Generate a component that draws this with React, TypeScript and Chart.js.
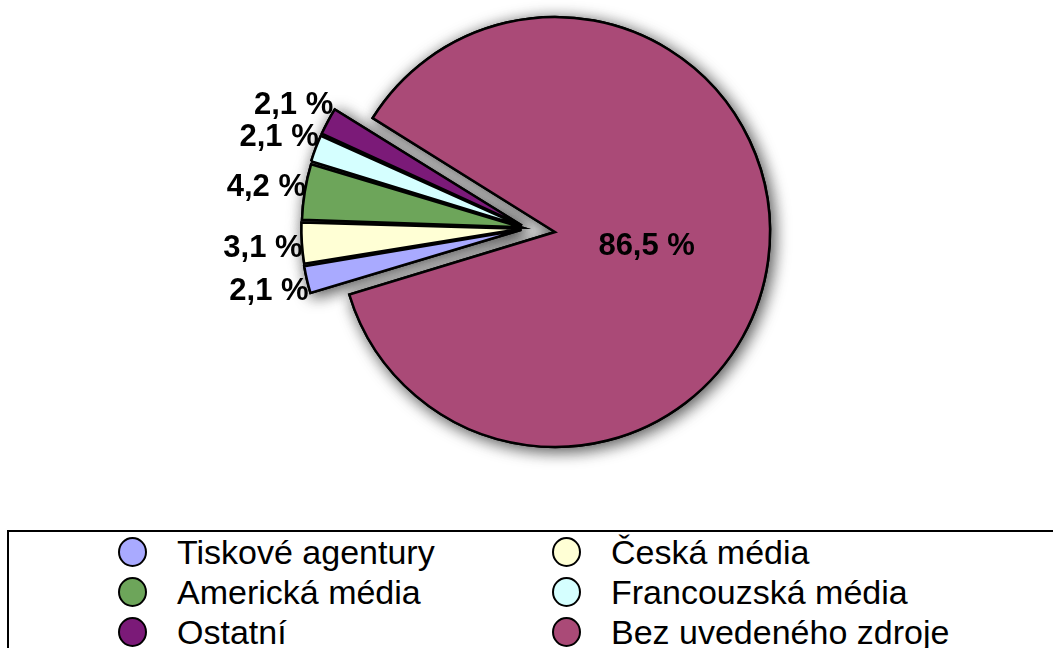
import React, { useEffect, useRef } from "react";
import { Chart, registerables } from "chart.js";

Chart.register(...registerables);

// ---- data ----
const categories = [
  "Tiskové agentury",
  "Česká média",
  "Americká média",
  "Francouzská média",
  "Ostatní",
  "Bez uvedeného zdroje",
];
const shares = [2.1, 3.1, 4.2, 2.1, 2.1, 86.5];
const sliceColors = ["#A9AAFF", "#FFFFD5", "#6DA55A", "#D5FFFF", "#7B1A78", "#AA4A77"];
const exploded = [true, true, true, true, true, false];

// ---- styling constants ----
const PIE_RADIUS = 215;
const GROUP_EXPLODE = 28;
const SLICE_OFFSET = 24;
const LABEL_SIZE = 31;
const FONT_FAMILY = '"Liberation Sans", Arial, Helvetica, sans-serif';

const fmt = (v: number) => v.toFixed(1).replace(".", ",") + " %";

function sliceShift(a: any) {
  const off = (a.options.offset || 0) / 4;
  const fix = 1 - Math.sin(Math.min(Math.PI, a.circumference || 0));
  return off * (1 + fix);
}

const groupExplodePlugin = {
  id: "groupExplode",
  afterDatasetsUpdate(chart: any) {
    const arcs = chart.getDatasetMeta(0).data;
    let s: number | null = null;
    let e: number | null = null;
    arcs.forEach((a: any, i: number) => {
      if (exploded[i]) {
        if (s === null) s = a.startAngle;
        e = a.endAngle;
      }
    });
    if (s === null || e === null) return;
    const mid = ((s as number) + (e as number)) / 2;
    arcs.forEach((a: any, i: number) => {
      if (exploded[i]) {
        a.x += Math.cos(mid) * GROUP_EXPLODE;
        a.y += Math.sin(mid) * GROUP_EXPLODE;
      }
    });
  },
};

const shadowPlugin = {
  id: "sliceShadow",
  beforeDatasetsDraw(chart: any) {
    const ctx = chart.ctx;
    const arcs = chart.getDatasetMeta(0).data;
    ctx.save();
    ctx.shadowColor = "rgba(0,0,0,0.7)";
    ctx.shadowBlur = 16;
    ctx.shadowOffsetX = 3;
    ctx.shadowOffsetY = 3;
    arcs.forEach((a: any) => a.draw(ctx));
    ctx.restore();
  },
};

const labelPlugin = {
  id: "sliceLabels",
  afterDatasetsDraw(chart: any) {
    const ctx = chart.ctx;
    const arcs = chart.getDatasetMeta(0).data;
    ctx.save();
    ctx.font = `bold ${LABEL_SIZE}px ${FONT_FAMILY}`;
    ctx.fillStyle = "#000";
    ctx.textAlign = "center";
    ctx.textBaseline = "alphabetic";
    arcs.forEach((a: any, i: number) => {
      const mid = (a.startAngle + a.endAngle) / 2;
      const sh = sliceShift(a);
      const cx = a.x + Math.cos(mid) * sh;
      const cy = a.y + Math.sin(mid) * sh;
      const d = exploded[i] ? a.outerRadius + 39 : a.outerRadius * 0.43;
      const x = cx + Math.cos(mid) * d;
      const y = cy + Math.sin(mid) * d;
      ctx.fillText(fmt(shares[i]), x, y + LABEL_SIZE * 0.358);
    });
    ctx.restore();
  },
};

const legendCols = [118, 552];
const legendRows = [552, 592, 632];

export default function App() {
  const canvasRef = useRef<HTMLCanvasElement | null>(null);

  useEffect(() => {
    const canvas = canvasRef.current;
    if (!canvas) return;
    const chart = new Chart(canvas, {
      type: "pie",
      data: {
        labels: categories,
        datasets: [
          {
            data: shares,
            backgroundColor: sliceColors,
            borderColor: "#000",
            borderWidth: 2.5,
            borderJoinStyle: "miter",
            offset: exploded.map((x) => (x ? SLICE_OFFSET : 0)),
          } as any,
        ],
      },
      options: {
        animation: false,
        responsive: false,
        maintainAspectRatio: false,
        devicePixelRatio: 1,
        events: [],
        rotation: 253.1,
        radius: PIE_RADIUS,
        layout: { padding: { left: 57, right: 0, top: 0, bottom: 56 } },
        plugins: {
          legend: { display: false },
          tooltip: { enabled: false },
        },
      } as any,
      plugins: [groupExplodePlugin, shadowPlugin, labelPlugin],
    });
    return () => chart.destroy();
  }, []);

  return (
    <div
      style={{
        position: "fixed",
        left: 0,
        top: 0,
        width: 1053,
        height: 648,
        overflow: "hidden",
        background: "#fff",
        fontFamily: FONT_FAMILY,
      }}
    >
      <canvas
        ref={canvasRef}
        width={1053}
        height={520}
        style={{ position: "absolute", left: 0, top: 0, width: 1053, height: 520 }}
      />
      <div
        style={{
          position: "absolute",
          left: 7,
          top: 530,
          width: 1200,
          height: 300,
          border: "2px solid #000",
          boxSizing: "border-box",
        }}
      />
      {categories.map((c, i) => {
        const col = i % 2;
        const row = Math.floor(i / 2);
        return (
          <div
            key={c}
            style={{
              position: "absolute",
              left: legendCols[col],
              top: legendRows[row] - 17,
              height: 34,
              display: "flex",
              alignItems: "center",
              whiteSpace: "nowrap",
            }}
          >
            <span
              style={{
                display: "inline-block",
                width: 29,
                height: 30,
                borderRadius: "50%",
                border: "2.5px solid #000",
                boxSizing: "border-box",
                background: sliceColors[i],
              }}
            />
            <span style={{ marginLeft: 30, fontSize: 34, lineHeight: "34px", color: "#000" }}>{c}</span>
          </div>
        );
      })}
    </div>
  );
}
